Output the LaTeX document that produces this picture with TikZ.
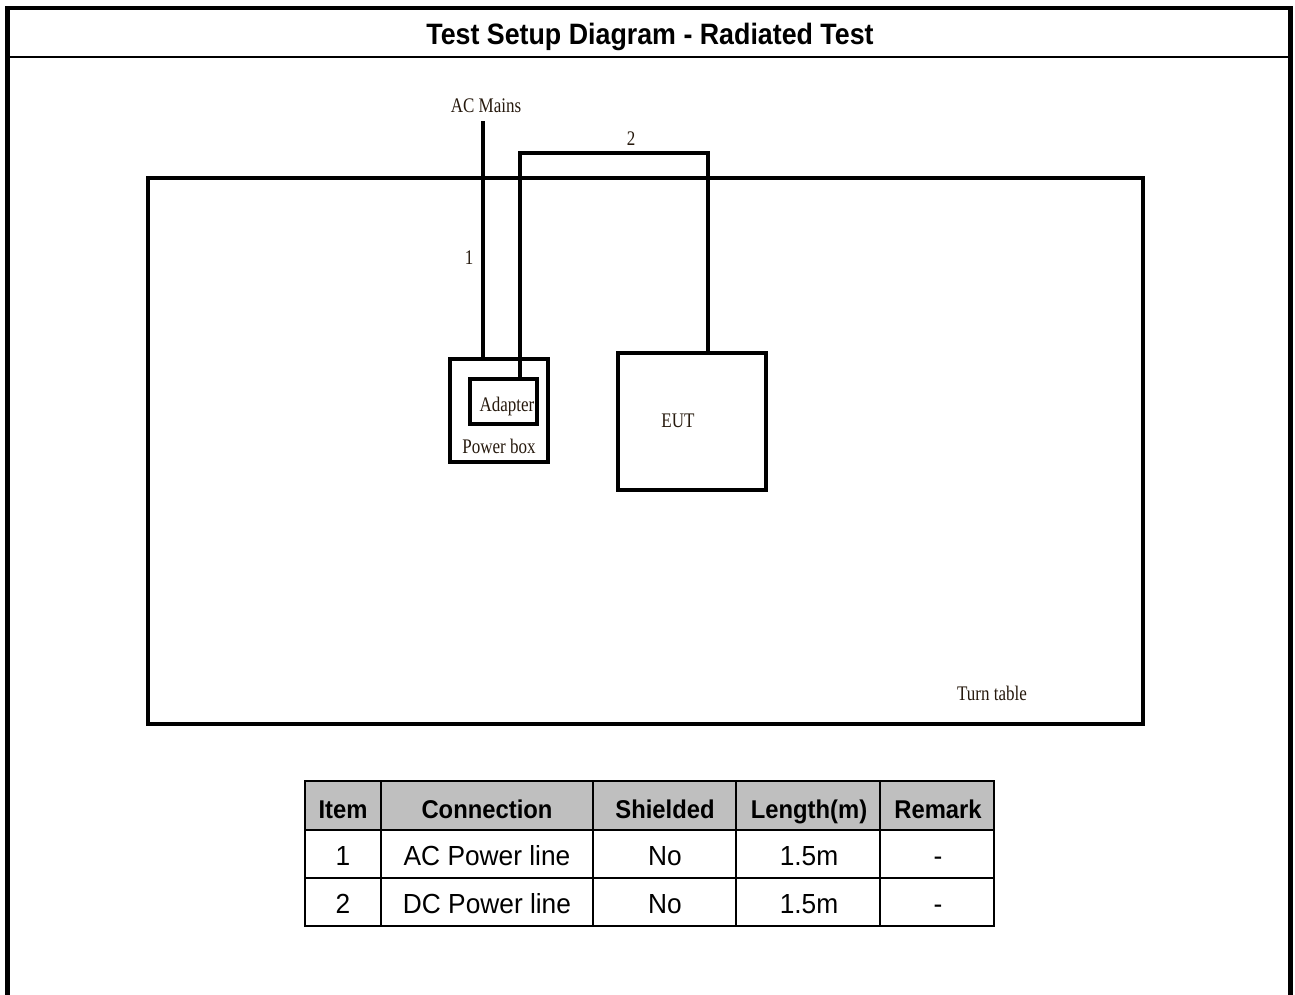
\documentclass[tikz,border=0pt]{standalone}
\usepackage{fontspec}
\setmainfont{Liberation Serif}
\newfontfamily\arialfont{Liberation Sans}
\begin{document}
\begin{tikzpicture}[x=1pt,y=-1pt,
  box/.style={draw=black,line width=4pt,inner sep=0pt},
  cable/.style={draw=black,line width=4pt,line join=miter},
  serlab/.style={font=\fontsize{17}{17}\selectfont,text=black!80!brown,inner sep=0pt,yscale=1.22,text height=11.3pt,text depth=0pt},
  cell/.style={font=\arialfont\fontsize{26.3}{26.3}\selectfont,inner sep=0pt,yscale=1.05,text height=18.9pt,text depth=0pt},
  hcell/.style={font=\arialfont\bfseries\fontsize{23.8}{23.8}\selectfont,inner sep=0pt,yscale=1.08,text height=17.1pt,text depth=0pt},
  tline/.style={draw=black,line width=2.5pt}]
\useasboundingbox (0,0) rectangle (1295,994);
% outer frame
\draw[line width=4.5pt] (7.5,1000) -- (7.5,8) -- (1290.5,8) -- (1290.5,1000);
\draw[line width=2pt] (7.5,57) -- (1290.5,57);
\node[font=\arialfont\bfseries\fontsize{26.8}{26.8}\selectfont,inner sep=0pt,yscale=1.1,text height=19.3pt,text depth=0pt] (title) at (650,34) {Test Setup Diagram - Radiated Test};
% turn table
\node[box,minimum width=995pt,minimum height=546pt] (tt) at (645.5,451) {};
\node[serlab] (ttl) at (992,694) {Turn table};
% power box and adapter
\node[box,minimum width=98pt,minimum height=103pt] (pb) at (499,410) {};
\node[box,minimum width=67pt,minimum height=45pt] (ad) at (503.5,401.5) {};
\node[serlab] (adl) at (507,405) {Adapter};
\node[serlab] (pbl) at (499,447) {Power box};
% EUT
\node[box,minimum width=148pt,minimum height=137pt] (eut) at (692,421.5) {};
\node[serlab] (eutl) at (678,421) {EUT};
% AC mains
\node[serlab] (ac) at (486,106) {AC Mains};
\coordinate (acend) at (483,121);
\draw[cable] (acend) -- (acend |- pb.north);
\node[serlab] (l1) at (469,258) {1};
% cable 2
\coordinate (c2a) at (520,153);
\coordinate (c2b) at (708,153);
\draw[cable] (c2a |- ad.north) -- (c2a) -- (c2b) -- (c2b |- eut.north);
\node[serlab] (l2) at (631,139) {2};
% table
\fill[black!25] (305,781) rectangle (994,830);
\draw[tline] (305,781) rectangle (994,926);
\draw[tline] (305,830) -- (994,830);
\draw[tline] (305,878) -- (994,878);
\foreach \xx in {381,593,736,880} \draw[tline] (\xx,781) -- (\xx,926);
\node[hcell] (h1) at (343,809) {Item};
\node[hcell] (h2) at (487,809) {Connection};
\node[hcell] (h3) at (665,809) {Shielded};
\node[hcell] (h4) at (809,809) {Length(m)};
\node[hcell] (h5) at (938,809) {Remark};
\node[cell] (a1) at (343,856) {1};
\node[cell] (a2) at (487,856) {AC Power line};
\node[cell] (a3) at (665,856) {No};
\node[cell] (a4) at (809,856) {1.5m};
\node[cell] (a5) at (938,856) {-};
\node[cell] (b1) at (343,904) {2};
\node[cell] (b2) at (487,904) {DC Power line};
\node[cell] (b3) at (665,904) {No};
\node[cell] (b4) at (809,904) {1.5m};
\node[cell] (b5) at (938,904) {-};
\end{tikzpicture}
\end{document}
